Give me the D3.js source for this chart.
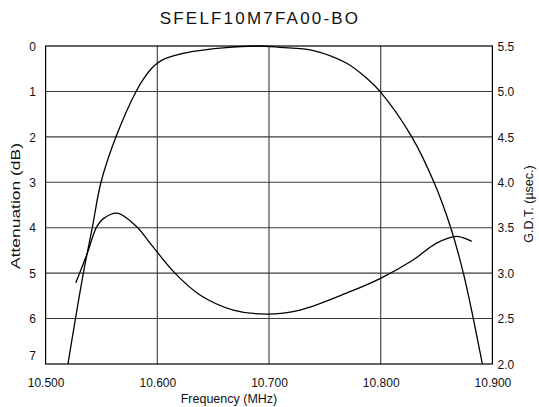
<!DOCTYPE html>
<html><head><meta charset="utf-8">
<script src="https://cdn.jsdelivr.net/npm/d3@7/dist/d3.min.js"></script>
<style>body{margin:0;background:#fff}svg{display:block}text{font-family:"Liberation Sans",Arial,sans-serif;fill:#111}</style>
</head><body><svg id="c" width="539" height="407"></svg>
<script>
const title = "SFELF10M7FA00-BO";
const xTicks = [10.5, 10.6, 10.7, 10.8, 10.9];
const xTickLabels = ["10.500", "10.600", "10.700", "10.800", "10.900"];
const attTicks = [0, 1, 2, 3, 4, 5, 6, 7];
const gdtTicks = [2.0, 2.5, 3.0, 3.5, 4.0, 4.5, 5.0, 5.5];

const attFreq = [10.520, 10.5338, 10.5418, 10.5496, 10.563, 10.581, 10.5895, 10.5950, 10.600, 10.6060, 10.6143, 10.632, 10.659, 10.690, 10.710, 10.7397, 10.7696, 10.7875, 10.7994, 10.8278, 10.8477, 10.8627, 10.874, 10.8829, 10.891];
const attDb =   [7.0,    5.0,     4.0,     3.0,     2.0,    1.0,    0.66,    0.49,    0.38,   0.29,    0.22,    0.12,   0.04,   0.0,    0.03,   0.10,    0.38,    0.71,    1.0,     2.0,     3.0,     4.0,     5.0,    6.0,     7.0];

const gdtFreq = [10.527, 10.5368, 10.5457, 10.5517, 10.5642, 10.5816, 10.5935, 10.6158, 10.6382, 10.668, 10.698, 10.7278, 10.7725, 10.7994, 10.829, 10.850, 10.868, 10.8815];
const gdtUs =   [2.895,  3.2,     3.51,    3.60,    3.66,    3.51,    3.33,    3.0,     2.76,    2.594,  2.55,   2.594,   2.796,   2.94,    3.145,  3.33,   3.405,  3.35];

const svg = d3.select("#c");
const L = 45.6, R = 492.4, T = 46, B = 364;
const x = d3.scaleLinear().domain([10.5, 10.9]).range([L, R]);
const yA = d3.scaleLinear().domain([0, 7]).range([T, B]);
const yG = d3.scaleLinear().domain([2, 5.5]).range([B, T]);

// grid
const g = svg.append("g").attr("stroke", "#3a3a3a").attr("stroke-width", 1.1);
g.selectAll("line.v").data(xTicks.slice(1, -1)).join("line")
  .attr("x1", d => x(d)).attr("x2", d => x(d)).attr("y1", T).attr("y2", B);
g.selectAll("line.h").data(attTicks.slice(1, -1)).join("line")
  .attr("x1", L).attr("x2", R).attr("y1", d => yA(d)).attr("y2", d => yA(d));
svg.append("rect").attr("x", L).attr("y", T).attr("width", R - L).attr("height", B - T)
  .attr("fill", "none").attr("stroke", "#000").attr("stroke-width", 1.2);

const font = '"Liberation Sans",Arial,sans-serif';
const ax = svg.append("g").attr("transform", `translate(0,${B})`)
  .call(d3.axisBottom(x).tickValues(xTicks).tickFormat((d, i) => xTickLabels[i]).tickSize(0).tickPadding(0));
ax.select(".domain").remove();
ax.selectAll("text").attr("y", 22.5).attr("dy", 0).attr("font-size", 12).attr("fill", "#111").attr("font-family", font);

const al = svg.append("g").attr("transform", `translate(36,0)`)
  .call(d3.axisLeft(yA).tickValues(attTicks).tickFormat(d3.format("d")).tickSize(0).tickPadding(0));
al.select(".domain").remove();
al.selectAll("text").attr("font-size", 12).attr("fill", "#111").attr("dy", "0.35em").attr("font-family", font)
  .attr("y", d => d === 7 ? -9 : 0);

const ar = svg.append("g").attr("transform", `translate(497.5,0)`)
  .call(d3.axisRight(yG).tickValues(gdtTicks).tickFormat(d3.format(".1f")).tickSize(0).tickPadding(0));
ar.select(".domain").remove();
ar.selectAll("text").attr("font-size", 12).attr("fill", "#111").attr("dy", "0.35em").attr("font-family", font);

// curves
const lineA = d3.line().x(d => x(d[0])).y(d => yA(d[1])).curve(d3.curveCatmullRom.alpha(0.5));
const lineG = d3.line().x(d => x(d[0])).y(d => yG(d[1])).curve(d3.curveCatmullRom.alpha(0.5));
svg.append("path").datum(d3.zip(attFreq, attDb)).attr("d", lineA)
  .attr("fill", "none").attr("stroke", "#000").attr("stroke-width", 1.3);
svg.append("path").datum(d3.zip(gdtFreq, gdtUs)).attr("d", lineG)
  .attr("fill", "none").attr("stroke", "#000").attr("stroke-width", 1.3);

// titles
svg.append("text").attr("x", 260).attr("y", 24).attr("text-anchor", "middle")
  .attr("font-size", 17).attr("letter-spacing", 2.2).text(title);
svg.append("text").attr("x", 229).attr("y", 402.5).attr("text-anchor", "middle")
  .attr("font-size", 12.5).text("Frequency (MHz)");
svg.append("text").attr("transform", "translate(20,206) rotate(-90)").attr("text-anchor", "middle")
  .attr("font-size", 12).attr("textLength", 126).attr("lengthAdjust", "spacingAndGlyphs").text("Attenuation (dB)");
svg.append("text").attr("transform", "translate(533,204) rotate(-90)").attr("text-anchor", "middle")
  .attr("font-size", 12.5).text("G.D.T. (µsec.)");
</script></body></html>
